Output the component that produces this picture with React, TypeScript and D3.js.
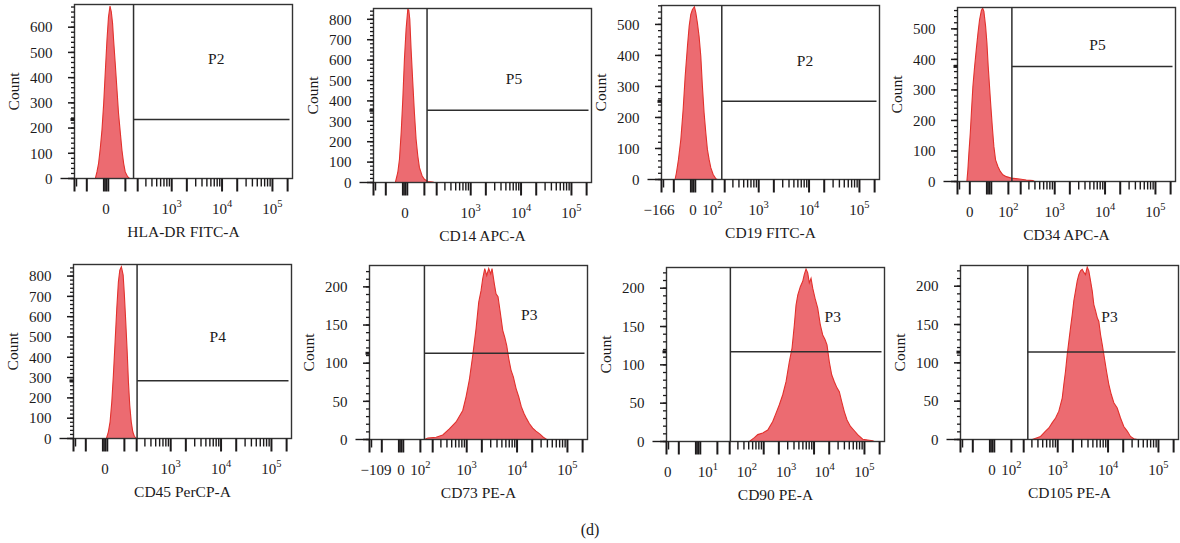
import React from "react";
import * as d3 from "d3";

// marker names (x axis titles) and gate names
const markers = ["HLA-DR FITC-A", "CD14 APC-A", "CD19 FITC-A", "CD34 APC-A", "CD45 PerCP-A", "CD73 PE-A", "CD90 PE-A", "CD105 PE-A"];
const gateNames = ["P2", "P5", "P2", "P5", "P4", "P3", "P3", "P3"];

// histograms: fluorescence value -> event count
const hlaValues = [-51, -43, -35, -27, -19, -11, -4, 4, 11, 18, 24, 30, 35, 43, 52, 60, 70, 79, 89, 99, 115, 129];
const hlaCounts = [0, 26, 60, 119, 192, 298, 417, 549, 641, 684, 661, 615, 549, 456, 350, 258, 179, 112, 60, 26, 7, 0];

const cd14Values = [-46, -34, -26, -18, -10.5, -3, 4.6, 12.4, 17, 21.6, 27.7, 35.9, 43.8, 52.4, 61.3, 70.1, 85.7, 100, 124, 163, 177];
const cd14Counts = [0, 49, 114, 245, 408, 605, 752, 850, 845, 800, 654, 490, 343, 212, 131, 74, 33, 16, 5, 2, 0];

const cd19Values = [-92, -84, -72, -59, -47, -37, -26, -18, -10.5, -3, 6, 12.4, 19.8, 27.7, 35.9, 43.8, 52.4, 61.3, 70.1, 80.1, 90, 105, 124, 135];
const cd19Counts = [0, 21, 64, 129, 226, 333, 430, 495, 532, 548, 557, 538, 505, 462, 398, 301, 215, 151, 97, 64, 38, 16, 2, 0];

const cd34Values = [-120, -113, -106, -97, -89, -81, -71, -62, -53, -45, -36, -30, -24, -16, -10, -4, 2, 7, 14.7, 22, 30, 41.3, 53.4, 67.3, 86.9, 120, 189, 264, 363, 393];
const cd34Counts = [0, 38, 93, 158, 235, 311, 377, 432, 486, 530, 560, 568, 557, 508, 454, 377, 311, 257, 180, 115, 71, 49, 33, 22, 16, 11, 8, 5, 3, 0];

const cd45Values = [6, 15.1, 23, 31.1, 38.8, 47.3, 56, 64.6, 72.4, 81.5, 92.2, 100, 109, 119, 128, 138, 150, 163, 177, 197];
const cd45Counts = [0, 33, 82, 181, 312, 476, 640, 772, 829, 846, 805, 706, 575, 427, 279, 164, 82, 33, 11, 0];

const cd73Values = [128, 155, 238, 328, 448, 612, 834, 970, 1128, 1318, 1534, 1735, 1928, 2083, 2284, 2502, 2741, 3004, 3187, 3540, 3828, 4190, 4590, 5198, 5690, 6240, 6840, 7590, 8440, 9540, 10790, 12150, 13740, 15550, 17500, 20460, 23770, 28540, 33190, 38760];
const cd73Counts = [0, 2, 3, 6, 14, 23, 38, 56, 78, 110, 145, 180, 195, 211, 224, 215, 224, 217, 224, 204, 191, 187, 169, 143, 134, 123, 106, 91, 82, 67, 56, 43, 34, 27, 21, 15, 11, 7, 3, 0];

const cd90Values = [516, 650, 761, 957, 1203, 1513, 1760, 2046, 2390, 2780, 3230, 3660, 4060, 4390, 4750, 5340, 5960, 6410, 6930, 7490, 8050, 8710, 9410, 10450, 11830, 13320, 14860, 16500, 18070, 20070, 22400, 25240, 28500, 31700, 35390, 39800, 45100, 52400, 61200, 73400, 92300, 115900, 145600, 156600];
const cd90Counts = [0, 5, 9, 11, 15, 26, 37, 48, 61, 78, 104, 122, 152, 178, 191, 202, 209, 218, 225, 220, 207, 213, 200, 187, 174, 152, 139, 133, 126, 104, 87, 78, 70, 65, 52, 39, 28, 20, 15, 9, 3, 2, 1, 0];

const cd105Values = [305, 452, 571, 665, 779, 906, 1053, 1230, 1325, 1430, 1548, 1666, 1800, 1946, 2093, 2263, 2445, 2630, 2840, 3070, 3305, 3570, 3860, 4150, 4490, 4850, 5220, 5640, 6100, 6560, 7090, 7660, 8240, 9320, 10350, 11560, 13020, 15200, 17670, 20530, 24000, 27900, 32400, 37900];
const cd105Counts = [0, 4, 11, 15, 22, 28, 37, 54, 72, 89, 111, 128, 146, 163, 181, 194, 207, 215, 220, 222, 218, 215, 225, 220, 207, 194, 176, 168, 159, 154, 137, 124, 111, 89, 72, 59, 48, 41, 28, 17, 11, 4, 1, 0];

const histValues = [hlaValues, cd14Values, cd19Values, cd34Values, cd45Values, cd73Values, cd90Values, cd105Values];
const histCounts = [hlaCounts, cd14Counts, cd19Counts, cd34Counts, cd45Counts, cd73Counts, cd90Counts, cd105Counts];

// gates: threshold on the x axis and the count level of the marker line
const gateX = [161, 118, 172, 124, 204, 128, 207, 246];
const gateY = [234, 354, 252, 377, 284, 113, 117, 114];

// y tick labels
const yLabelsTop = [[0, 100, 200, 300, 400, 500, 600], [0, 100, 200, 300, 400, 500, 600, 700, 800], [0, 100, 200, 300, 400, 500], [0, 100, 200, 300, 400, 500], [0, 100, 200, 300, 400, 500, 600, 700, 800]];
const yLabelsBottom = [0, 50, 100, 150, 200];
const yLabels = [...yLabelsTop, yLabelsBottom, yLabelsBottom, yLabelsBottom];

// x tick labels [text, value where it sits]
const xLabels: [string, number][][] = [
  [["0", 0], ["10^3", 1e3], ["10^4", 1e4], ["10^5", 1e5]],
  [["0", 0], ["10^3", 1e3], ["10^4", 1e4], ["10^5", 1e5]],
  [["\u2212166", -226], ["0", 0], ["10^2", 100], ["10^3", 1e3], ["10^4", 1e4], ["10^5", 1e5]],
  [["0", -100], ["10^2", 100], ["10^3", 1e3], ["10^4", 1e4], ["10^5", 1e5]],
  [["0", 0], ["10^3", 1e3], ["10^4", 1e4], ["10^5", 1e5]],
  [["\u2212109", -141], ["0", 0], ["10^2", 100], ["10^3", 1e3], ["10^4", 1e4], ["10^5", 1e5]],
  [["0", -187], ["10^1", 46], ["10^2", 457], ["10^3", 2780], ["10^4", 16250], ["10^5", 1e5]],
  [["0", 0], ["10^2", 100], ["10^3", 1e3], ["10^4", 1e4], ["10^5", 1e5]],
];

// layout
const W = 218;
const H = 174;
const panels = [
  { left: 74.5, top: 4.5, yMax: 690, yStep: 20, label: [7660, 476] },
  { left: 373.5, top: 8.5, yMax: 853, yStep: 20, label: [7250, 510] },
  { left: 661.5, top: 5.5, yMax: 561, yStep: 20, label: [8320, 382] },
  { left: 957.5, top: 7.5, yMax: 570, yStep: 20, label: [7090, 448] },
  { left: 73.5, top: 264.5, yMax: 857, yStep: 20, label: [8590, 500] },
  { left: 369.5, top: 265.5, yMax: 228, yStep: 10, label: [17500, 164] },
  { left: 666.5, top: 267.5, yMax: 227, yStep: 10, label: [23450, 163] },
  { left: 960.5, top: 265.5, yMax: 227, yStep: 10, label: [10690, 161] },
];

const FONT = "'Liberation Serif', 'DejaVu Serif', serif";
const INK = "#1c1a1b";

// biexponential-like display transform
const tr = (v: number) => Math.asinh(v / 100);
const xLin = d3.scaleLinear().domain([tr(-200), tr(250000)]).range([0, W]);
const x = (v: number) => xLin(tr(v));

const decadeTicks = [100, 1000, 10000, 100000].flatMap((d) => d3.range(1, 10).map((m) => ({ v: m * d, long: m <= 2 })));
const xTicks = [
  { v: -200, long: true }, { v: -180, long: false }, { v: -100, long: true },
  { v: -10, long: true }, { v: 0, long: true }, { v: 10, long: true },
  ...decadeTicks,
].filter((d) => x(d.v) >= 0 && x(d.v) <= W);

function Label({ s }: { s: string }) {
  const [base, sup] = s.split("^");
  return (
    <>
      {base}
      {sup && <tspan dy={-6.5} fontSize={10.5}>{sup}</tspan>}
    </>
  );
}

function Panel({ i }: { i: number }) {
  const p = panels[i];
  const y = d3.scaleLinear().domain([0, p.yMax]).range([H, 0]);
  const pts = histValues[i].map((v, k) => [v, histCounts[i][k]] as [number, number]);
  const area = d3.area<[number, number]>().x((d) => x(d[0])).y0(H).y1((d) => y(d[1]));
  const line = d3.line<[number, number]>().x((d) => x(d[0])).y((d) => y(d[1]));
  const minor = d3.range(0, p.yMax, p.yStep);
  const gx = x(gateX[i]);
  const gy = y(gateY[i]);
  const clip = `clip${i}`;
  return (
    <g transform={`translate(${p.left},${p.top})`} fontFamily={FONT} fill={INK}>
      <clipPath id={clip}>
        <rect x={0} y={0} width={W} height={H} />
      </clipPath>
      <g clipPath={`url(#${clip})`}>
        <path d={area(pts) ?? ""} fill="#ec6b71" stroke="none" />
        <path d={line(pts) ?? ""} fill="none" stroke="#e2312d" strokeWidth={1.1} />
      </g>
      <rect x={0} y={0} width={W} height={H} fill="none" stroke="#333" strokeWidth={1.4} />
      {/* gate */}
      <line x1={gx} x2={gx} y1={0} y2={H} stroke="#2e2e2e" strokeWidth={1.5} />
      <line x1={gx} x2={W - 3} y1={gy} y2={gy} stroke="#2e2e2e" strokeWidth={1.5} />
      <text x={x(p.label[0])} y={y(p.label[1])} dy="0.35em" textAnchor="middle" fontSize={15.5}>
        {gateNames[i]}
      </text>
      {/* y axis */}
      {minor.map((c) => (
        <line key={"m" + c} x1={-3.5} x2={0} y1={y(c)} y2={y(c)} stroke={INK} strokeWidth={1.3} />
      ))}
      {yLabels[i].map((c) => (
        <g key={"y" + c}>
          <line x1={-6.5} x2={0} y1={y(c)} y2={y(c)} stroke={INK} strokeWidth={1.5} />
          <text x={-22} y={y(c)} dy="0.35em" textAnchor="end" fontSize={15}>
            {c}
          </text>
        </g>
      ))}
      <line x1={-4} x2={0} y1={gy} y2={gy} stroke={INK} strokeWidth={3} />
      <text transform={`translate(${-61},${H / 2}) rotate(-90)`} textAnchor="middle" dy="0.35em" fontSize={15.5}>
        Count
      </text>
      {/* x axis */}
      <line x1={-14} x2={0} y1={H} y2={H} stroke={INK} strokeWidth={1.4} />
      {xTicks.map((d) => (
        <line
          key={"x" + d.v}
          x1={x(d.v)}
          x2={x(d.v)}
          y1={H}
          y2={H + (d.long ? 13 : 8)}
          stroke={INK}
          strokeWidth={d.long ? 2 : 1.4}
        />
      ))}
      {xLabels[i].map(([s, v]) => (
        <text key={"xl" + s} x={x(v)} y={H + 35} textAnchor="middle" fontSize={15}>
          <Label s={s} />
        </text>
      ))}
      <text x={W / 2} y={H + 58} textAnchor="middle" fontSize={15.5}>
        {markers[i]}
      </text>
    </g>
  );
}

export default function App() {
  return (
    <div style={{ position: "absolute", left: 0, top: 0 }}>
      <svg width={1180} height={543} style={{ display: "block", background: "#fff" }}>
        {panels.map((_, i) => (
          <Panel key={i} i={i} />
        ))}
        <text x={590} y={535} textAnchor="middle" fontSize={16} fontFamily={FONT} fill={INK}>
          (d)
        </text>
      </svg>
    </div>
  );
}
